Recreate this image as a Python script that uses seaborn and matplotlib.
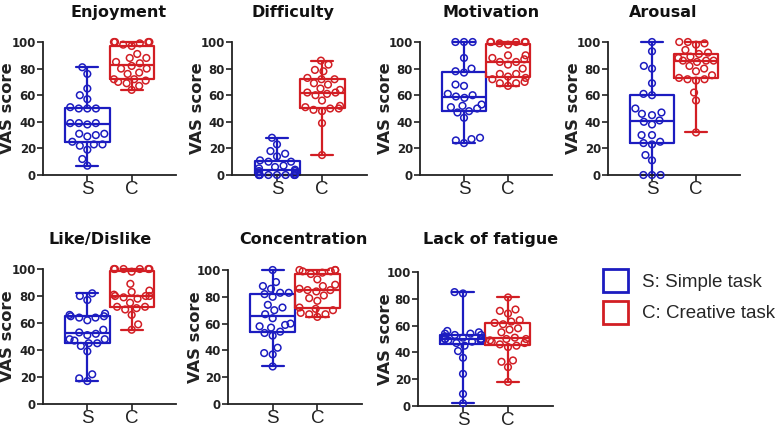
import pandas as pd
import seaborn as sns
import matplotlib.pyplot as plt
from matplotlib.patches import Patch

#%% 数据 (VAS score, 每组24人)

panels = ["Enjoyment", "Difficulty", "Motivation", "Arousal",
          "Like/Dislike", "Concentration", "Lack of fatigue"]
groups = ["S", "C"]
legend_labels = ["S: Simple task", "C: Creative task"]

enjoyment_s = [7, 12, 19, 22, 23, 23, 25, 29, 30, 31, 31, 38, 39, 39, 39, 50, 50, 50, 51, 57, 60, 65, 76, 81]
enjoyment_c = [64, 67, 69, 70, 71, 72, 72, 76, 77, 80, 80, 82, 84, 85, 88, 88, 91, 97, 98, 99, 100, 100, 100, 100]
difficulty_s = [0, 0, 0, 0, 0, 0, 0, 0, 1, 2, 3, 3, 4, 5, 6, 7, 10, 10, 11, 14, 16, 18, 23, 28]
difficulty_c = [15, 39, 48, 49, 50, 50, 51, 52, 56, 60, 61, 62, 62, 64, 65, 68, 69, 72, 72, 73, 78, 79, 83, 86]
motivation_s = [24, 26, 27, 28, 43, 47, 48, 50, 51, 52, 53, 58, 59, 60, 61, 67, 68, 77, 78, 80, 88, 100, 100, 100]
motivation_c = [67, 69, 69, 70, 72, 73, 74, 76, 76, 80, 83, 85, 85, 87, 88, 90, 90, 98, 99, 100, 100, 100, 100, 100]
arousal_s = [0, 0, 0, 11, 15, 23, 24, 25, 30, 30, 38, 40, 41, 45, 46, 47, 50, 60, 61, 69, 80, 82, 93, 100]
arousal_c = [32, 56, 62, 71, 72, 72, 73, 75, 78, 80, 82, 85, 86, 86, 86, 88, 89, 91, 92, 94, 98, 99, 100, 100]
like_s = [17, 19, 22, 39, 43, 45, 45, 47, 48, 48, 51, 52, 53, 55, 62, 64, 64, 65, 65, 66, 67, 77, 80, 82]
like_c = [55, 59, 66, 70, 71, 72, 72, 75, 78, 79, 80, 80, 80, 81, 83, 84, 89, 98, 100, 100, 100, 100, 100, 100]
conc_s = [28, 37, 38, 42, 51, 53, 54, 57, 58, 59, 60, 64, 67, 70, 72, 74, 80, 82, 83, 83, 86, 88, 91, 100]
conc_c = [65, 67, 67, 68, 70, 71, 72, 77, 79, 81, 84, 85, 85, 86, 88, 89, 93, 97, 98, 99, 99, 100, 100, 100]
fatigue_s = [2, 9, 24, 36, 41, 45, 47, 48, 49, 49, 50, 50, 50, 50, 51, 52, 53, 53, 54, 54, 55, 56, 84, 85]
fatigue_c = [18, 29, 33, 34, 44, 45, 46, 47, 48, 49, 50, 50, 51, 55, 57, 58, 61, 62, 63, 64, 69, 71, 72, 81]

scores = {
    "Enjoyment": (enjoyment_s, enjoyment_c),
    "Difficulty": (difficulty_s, difficulty_c),
    "Motivation": (motivation_s, motivation_c),
    "Arousal": (arousal_s, arousal_c),
    "Like/Dislike": (like_s, like_c),
    "Concentration": (conc_s, conc_c),
    "Lack of fatigue": (fatigue_s, fatigue_c),
}

rows = []
for name in panels:
    for g, vals in zip(groups, scores[name]):
        for v in vals:
            rows.append((name, g, v))
df = pd.DataFrame(rows, columns=["panel", "group", "score"])

#%% 画图

sns.set_style('ticks')
plt.rcParams['font.family'] = ['DejaVu Sans']

W, H = 776, 429
fig = plt.figure(figsize=(W / 100, H / 100), dpi=100)

pal = {"S": '#1c1cc0', "C": '#d21e24'}
ink = '#222222'

# 子图像素位置 (左, 右, 上=100, 下=0), 标题中心, ylabel 中心偏移
layout = {
    "Enjoyment": ((43, 176, 42, 175), (119, 17), -35),
    "Difficulty": ((232, 367, 42, 175), (293, 17), -35),
    "Motivation": ((420, 552, 42, 175), (491, 17), -34),
    "Arousal": ((608, 740, 42, 175), (663, 17), -34),
    "Like/Dislike": ((43, 176, 269, 404), (100, 244), -35),
    "Concentration": ((228, 362, 270, 404), (303, 244), -33),
    "Lack of fatigue": ((418, 553, 272, 406), (491, 244), -33),
}

for name in panels:
    (l, r, t, b), (tx, ty), yoff = layout[name]
    ax = fig.add_axes([l / W, 1 - b / H, (r - l) / W, (b - t) / H])
    sub = df[df.panel == name]

    sns.boxplot(data=sub, x="group", y="score", hue="group", order=groups,
                hue_order=groups, palette=pal, fill=False, width=1.0,
                whis=(0, 100), linewidth=1.6, showfliers=False,
                legend=False, ax=ax)
    sns.swarmplot(data=sub, x="group", y="score", hue="group", order=groups,
                  hue_order=groups, palette=pal, size=4.8, legend=False, ax=ax)

    # 空心圆点
    for coll in ax.collections:
        fc = coll.get_facecolor()
        coll.set_edgecolor(fc)
        coll.set_facecolor('none')
        coll.set_linewidth(1.1)
        coll.set_clip_on(False)
    for line in ax.lines:
        line.set_clip_on(False)

    ax.set_xlim(-1, 2)
    ax.set_ylim(0, 100)
    ax.set_yticks(range(0, 101, 20))
    ax.set_xlabel("")
    ax.set_ylabel("")
    ax.text(yoff / (r - l), 0.5, "VAS score", transform=ax.transAxes,
            rotation=90, ha='center', va='center', fontsize=11.8,
            fontweight='bold', color=ink)

    ax.tick_params(axis='y', length=4, width=1.2, color=ink, pad=1,
                   labelsize=8.5, labelcolor=ink)
    ax.tick_params(axis='x', length=4, width=1.2, color=ink, pad=0.5,
                   labelsize=13.5, labelcolor=ink)
    for lab in ax.get_yticklabels():
        lab.set_fontweight('bold')
    for lab in ax.get_xticklabels():
        lab.set_family('Liberation Sans')

    sns.despine(ax=ax)
    ax.spines['left'].set_linewidth(1.3)
    ax.spines['bottom'].set_linewidth(1.3)
    ax.spines['left'].set_color(ink)
    ax.spines['bottom'].set_color(ink)

    fig.text(tx / W, 1 - ty / H, name, ha='center', va='baseline',
             fontsize=11.5, fontweight='bold', color='#111111')

handles = [Patch(facecolor='none', edgecolor=pal[g], linewidth=2, label=lab)
           for g, lab in zip(groups, legend_labels)]
fig.legend(handles=handles, loc='upper left',
           bbox_to_anchor=(603 / W, 1 - 269 / H), frameon=False,
           borderpad=0, borderaxespad=0, handlelength=1.33,
           handleheight=1.5, handletextpad=0.75, labelspacing=0.48,
           prop={'family': 'Liberation Sans', 'size': 13.5})

plt.savefig('out.png', dpi=100)
